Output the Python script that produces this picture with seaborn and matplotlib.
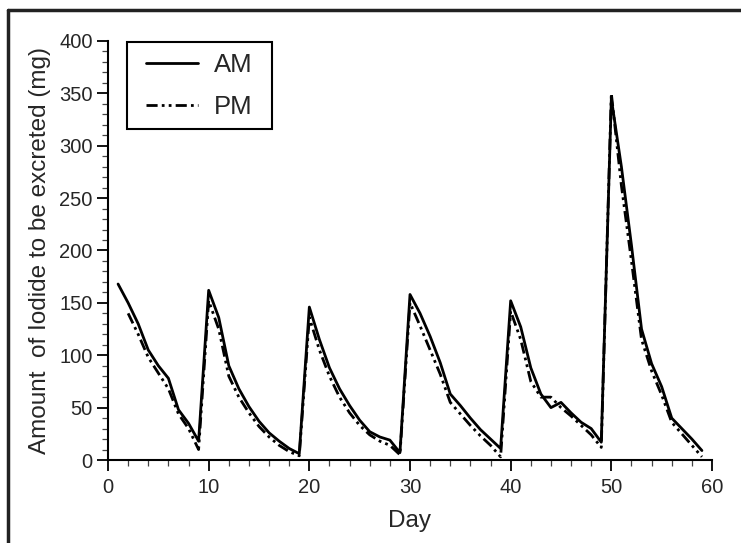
import numpy as np
import pandas as pd
import matplotlib
matplotlib.use("Agg")
import matplotlib.pyplot as plt
from matplotlib.lines import Line2D
from matplotlib.patches import Rectangle
from matplotlib.ticker import MultipleLocator
import seaborn as sns

# ---- data ----
am_days = list(range(1, 60))
am_vals = [168, 150, 130, 105, 90, 78, 48, 35, 18,
           162, 136, 90, 68, 51, 37, 26, 18, 11, 6,
           146, 115, 88, 68, 52, 38, 27, 22, 19, 7,
           158, 140, 118, 93, 63, 52, 40, 29, 20, 11,
           152, 127, 88, 63, 50, 55, 45, 36, 30, 17,
           345, 280, 205, 125, 92, 70, 40, 30, 20, 9]

pm_days = list(range(2, 60))
pm_vals = [140, 120, 98, 83, 68, 44, 30, 10,
           152, 125, 80, 60, 45, 32, 22, 14, 8, 4,
           136, 105, 80, 60, 45, 33, 24, 18, 14, 5,
           150, 128, 105, 82, 55, 44, 33, 23, 14, 3,
           142, 115, 75, 60, 60, 50, 42, 33, 24, 12,
           350, 262, 190, 115, 85, 62, 36, 25, 14, 3]

series_names = ["AM", "PM"]
x_ticks = [0, 10, 20, 30, 40, 50, 60]
y_ticks = [0, 50, 100, 150, 200, 250, 300, 350, 400]

df = pd.DataFrame({
    "Day": am_days + pm_days,
    "Amount": am_vals + pm_vals,
    "Session": [series_names[0]] * len(am_days) + [series_names[1]] * len(pm_days),
})

sns.set_style("white")
plt.rcParams["font.family"] = ["Liberation Sans", "DejaVu Sans"]

fig = plt.figure(figsize=(7.41, 5.43), dpi=100)
ax = fig.add_axes([108 / 741, 1 - 460 / 543, 604 / 741, 419 / 543])

sns.lineplot(data=df, x="Day", y="Amount", style="Session",
             dashes={"AM": "", "PM": (4, 1.5, 1, 1.5, 1, 1.5)},
             color="black", linewidth=2.0, ax=ax, legend=True)

ax.set_xlim(0, 60)
ax.set_ylim(0, 400)
ax.set_xticks(x_ticks)
ax.set_yticks(y_ticks)
ax.xaxis.set_minor_locator(MultipleLocator(2))
ax.yaxis.set_minor_locator(MultipleLocator(10))
ax.tick_params(axis="both", which="major", direction="out", length=8, width=1.3,
               labelsize=14.5, color="black", bottom=True, left=True)
ax.tick_params(axis="y", which="major", pad=3)
ax.tick_params(axis="x", which="major", pad=5)
ax.tick_params(axis="both", which="minor", direction="out", length=4.5, width=0.9,
               color="#444444", bottom=True, left=True)

for s in ["top", "right"]:
    ax.spines[s].set_visible(False)
for s in ["left", "bottom"]:
    ax.spines[s].set_color("black")
    ax.spines[s].set_linewidth(1.5)

ax.set_xlabel("Day", fontsize=17.5, labelpad=9)
ax.set_ylabel("Amount  of Iodide to be excreted (mg)", fontsize=17.5, labelpad=6)

leg = ax.legend(loc="upper left", bbox_to_anchor=(0.048, 0.994), borderaxespad=0,
                frameon=False, fontsize=18.5, handlelength=2.0,
                handletextpad=0.62, labelspacing=0.7, borderpad=0.36, title=None)
for h in leg.get_lines():
    h.set_color("black")
    h.set_linewidth(2.0)

# legend box as in the reference (wider side padding than top/bottom)
ax.add_patch(Rectangle((19 / 604, (460 - 129) / 419), 145 / 604, 87 / 419,
                       transform=ax.transAxes, fill=False, edgecolor="black",
                       linewidth=1.5, clip_on=False, zorder=5))

# figure border (top and left visible in the reference)
fig.add_artist(Line2D([8 / 741, 1.01], [1 - 10 / 543, 1 - 10 / 543],
                      transform=fig.transFigure, color="#222222", linewidth=2.5))
fig.add_artist(Line2D([8 / 741, 8 / 741], [-0.01, 1 - 10 / 543],
                      transform=fig.transFigure, color="#222222", linewidth=2.5))

fig.savefig("out.png", dpi=100)
